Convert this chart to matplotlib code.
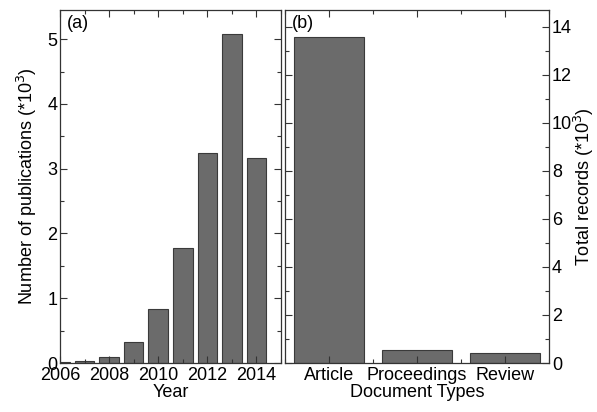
import matplotlib.pyplot as plt
from matplotlib.ticker import MultipleLocator

plt.rcParams['font.family'] = ['Liberation Sans', 'DejaVu Sans']

years = [2006, 2007, 2008, 2009, 2010, 2011, 2012, 2013, 2014]
publications = [0.01, 0.03, 0.10, 0.32, 0.84, 1.78, 3.24, 5.08, 3.17]

doc_types = ['Article', 'Proceedings', 'Review']
records = [13.58, 0.54, 0.43]

bar_color = '#6b6b6b'
edge_color = '#3a3a3a'

fig = plt.figure(figsize=(5.97, 4.12), dpi=100)
ax1 = fig.add_axes([60/597, 49/412, 221/597, 353/412])
ax2 = fig.add_axes([285/597, 49/412, 264/597, 353/412])


def style_ticks(ax):
    ax.tick_params(which='both', direction='in', top=True, bottom=True,
                   left=True, right=True, labelsize=13, width=0.8, color='#333333')
    ax.tick_params(which='major', length=5, pad=2)
    ax.tick_params(which='minor', length=3)
    for s in ax.spines.values():
        s.set_linewidth(0.9)
        s.set_color('#333333')


# panel (a)
ax1.bar(years, publications, width=0.8, color=bar_color, edgecolor=edge_color, linewidth=0.8)
ax1.set_xlim(2006, 2015)
ax1.set_ylim(0, 5.45)
ax1.xaxis.set_major_locator(MultipleLocator(2))
ax1.xaxis.set_minor_locator(MultipleLocator(1))
ax1.yaxis.set_major_locator(MultipleLocator(1))
ax1.yaxis.set_minor_locator(MultipleLocator(0.5))
style_ticks(ax1)
ax1.tick_params(axis='x', pad=3)
ax1.set_xlabel('Year', fontsize=13, labelpad=0)
ax1.set_ylabel('Number of publications (*10$^3$)', fontsize=13, labelpad=6)
ax1.text(0.03, 0.985, '(a)', transform=ax1.transAxes, fontsize=13, va='top', ha='left')

# panel (b)
x = list(range(len(doc_types)))
ax2.bar(x, records, width=0.8, color=bar_color, edgecolor=edge_color, linewidth=0.8)
ax2.set_xlim(-0.5, 2.5)
ax2.set_ylim(0, 14.7)
ax2.set_xticks(x)
ax2.set_xticklabels(doc_types)
ax2.xaxis.set_minor_locator(MultipleLocator(0.5))
ax2.yaxis.set_major_locator(MultipleLocator(2))
ax2.yaxis.set_minor_locator(MultipleLocator(1))
style_ticks(ax2)
ax2.tick_params(axis='x', pad=3)
ax2.tick_params(labelleft=False, labelright=True)
ax2.yaxis.set_label_position('right')
ax2.set_xlabel('Document Types', fontsize=13, labelpad=0)
ax2.set_ylabel('Total records (*10$^3$)', fontsize=13, labelpad=0)
ax2.text(0.025, 0.985, '(b)', transform=ax2.transAxes, fontsize=13, va='top', ha='left')

fig.savefig('out.png', dpi=100)
